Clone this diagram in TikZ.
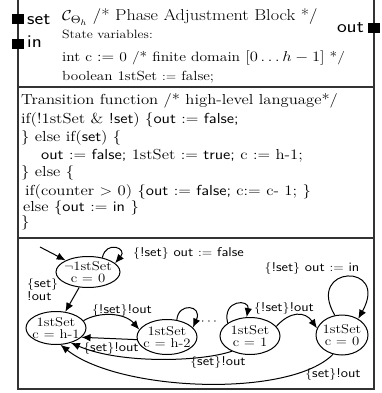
\documentclass[tikz,border=0pt]{standalone}
\usetikzlibrary{arrows.meta,shapes.geometric}
\newcommand{\sx}[1]{\scalebox{1.15}[1]{#1}}
\begin{document}
\begin{tikzpicture}[x=1pt,y=-1pt,
  txt/.style={anchor=base west, inner sep=0pt},
  mid/.style={txt, font=\fontsize{14.5}{15}\selectfont},
  port/.style={fill=black, inner sep=0pt, minimum width=12pt, minimum height=10pt},
  plbl/.style={inner sep=0pt, font=\fontsize{18}{18}\sffamily\selectfont},
  state/.style={draw, ellipse, line width=1pt, inner sep=0pt},
  stl/.style={inner sep=0pt, align=center, font=\fontsize{12.8}{12}\selectfont},
  elab/.style={inner sep=0pt, font=\fontsize{12.8}{13}\selectfont},
  edge/.style={-{Latex[length=9pt,width=7.5pt]}, line width=1pt},
  frame/.style={line width=1.3pt, draw=black!80}]
\useasboundingbox (0,0) rectangle (382,393);
\clip (0,0) rectangle (382,393);
% frame
\draw[frame] (18,-3) rectangle (374,389);
\draw[frame] (18,87) -- (374,87);
\draw[frame] (18,238) -- (374,238);
% ports
\node[port] (pset) at (18,19.5) {};
\node[port] (pin) at (18,44.5) {};
\node[port] (pout) at (374,28) {};
\node[plbl, anchor=base west] (lset) at (27,25) {\sx{set}};
\node[plbl, anchor=base west] (lin) at (27,48) {\sx{in}};
\node[plbl, anchor=base east] (lout) at (364,33) {\sx{out}};
% header
\node[txt, font=\fontsize{15.8}{16}\selectfont] (head) at (62,21) {\sx{$\mathcal{C}_{\Theta_h}$ /* Phase Adjustment Block */}};
\node[txt, font=\fontsize{12}{12}\selectfont] (sv) at (62,39) {\sx{State variables:}};
\node[txt, font=\fontsize{13.5}{13}\selectfont] (v1) at (62,62) {\sx{int c $:=$ 0 /* finite domain $[0\ldots h-1]$ */}};
\node[txt, font=\fontsize{13.2}{13}\selectfont] (v2) at (62,81) {\sx{boolean 1stSet $:=$ false;}};
% transition function
\node[mid] (t1) at (21,104) {\sx{Transition function /* high-level language*/}};
\node[mid] (t2) at (21,123) {\sx{if(!1stSet \& \textsf{!set}) \{\textsf{out $:=$ false;}}};
\node[mid] (t3) at (21,141) {\sx{\} else if(\textsf{set}) \{}};
\node[mid] (t4) at (41,159) {\sx{\textsf{out $:=$ false;} 1stSet $:=$ \textsf{true;} c $:=$ h-1;}};
\node[mid] (t5) at (21,176) {\sx{\} else \{}};
\node[mid] (t6) at (25,195) {\sx{if(counter $>$ 0) \{\textsf{out $:=$ false;} c$:=$ c- 1; \}}};
\node[mid] (t7) at (23,211) {\sx{else \{\textsf{out $:=$ in} \}}};
\node[mid] (t8) at (21,226) {\sx{\}}};
% states
\node[state, minimum width=64pt, minimum height=31pt] (s0) at (88,272) {};
\node[stl] (s0t) at (88,272) {\sx{$\neg$1stSet}\\\sx{c = 0}};
\node[state, minimum width=60pt, minimum height=33pt] (h1) at (56,328) {};
\node[stl] (h1t) at (56,328) {\sx{1stSet}\\\sx{c = h-1}};
\node[state, minimum width=60pt, minimum height=35pt] (h2) at (167,337) {};
\node[stl] (h2t) at (167,337) {\sx{1stSet}\\\sx{c = h-2}};
\node[state, minimum width=60pt, minimum height=37pt] (c1) at (250,336) {};
\node[stl] (c1t) at (250,336) {\sx{1stSet}\\\sx{c = 1}};
\node[state, minimum width=52pt, minimum height=40pt] (c0) at (342,335) {};
\node[stl] (c0t) at (342,335) {\sx{1stSet}\\\sx{c = 0}};
\node[elab] (dots) at (209,322) {\sx{$\cdots$}};
% edges
\coordinate (init) at (40,247);
\draw[edge] (init) -- (s0);
\draw[edge] (s0.45) .. controls (106,240) and (128,248) .. (s0.18);
\node[elab, anchor=west] (l1) at (133,253) {\sx{$\{$\textsf{!set}$\}$ \textsf{out $:=$ false}}};
\draw[edge] (s0) -- (h1);
\node[elab, align=left, anchor=west] (l2) at (27,290) {\sx{$\{$\textsf{set}$\}$}\\\sx{\textsf{!out}}};
\draw[edge] (h1.15) .. controls (100,311) and (125,313) .. (h2.165);
\node[elab] (l3) at (122,310) {\sx{$\{$\textsf{!set}$\}$\textsf{!out}}};
\draw[edge] (h2.185) -- (h1.-20);
\node[elab] (l4) at (111,348) {\sx{$\{$\textsf{set}$\}$\textsf{!out}}};
\draw[edge] (h2.60) .. controls (178,302) and (203,305) .. (h2.20);
\draw[edge] (c1.150) .. controls (222,299) and (250,299) .. (c1.100);
\draw[edge] (c1.20) .. controls (290,311) and (305,311) .. (c0.165);
\node[elab] (l5) at (284,308) {\sx{$\{$\textsf{!set}$\}$\textsf{!out}}};
\draw[edge] (c0.110) .. controls (305,265) and (390,262) .. (c0.45);
\node[elab] (l6) at (312,268) {\sx{$\{$\textsf{!set}$\}$ \textsf{out $:=$ in}}};
\draw[edge] (c1.220) .. controls (200,362) and (120,364) .. (h1.-45);
\node[elab] (l7) at (218,362) {\sx{$\{$\textsf{set}$\}$\textsf{!out}}};
\draw[edge] (c0.245) .. controls (290,398) and (120,392) .. (h1.-75);
\node[elab] (l8) at (333,374) {\sx{$\{$\textsf{set}$\}$\textsf{!out}}};
\end{tikzpicture}
\end{document}
